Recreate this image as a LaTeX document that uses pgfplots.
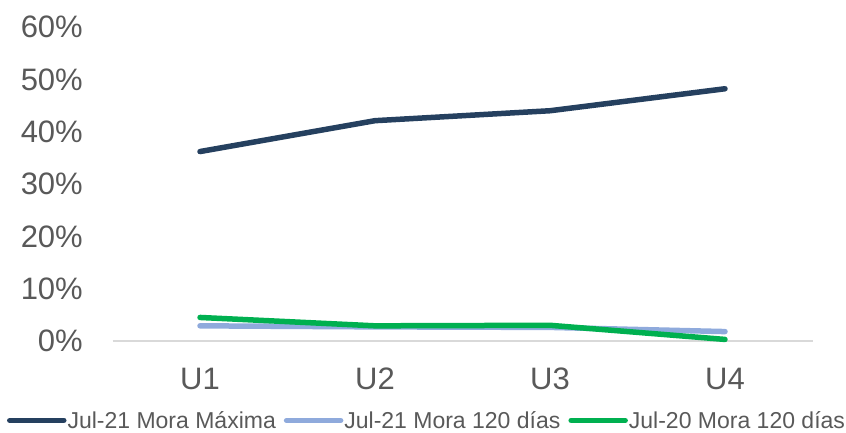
\documentclass[border=0pt]{standalone}
\usepackage{fontspec}
\setmainfont{Liberation Sans}
\usepackage{pgfplots}
\pgfplotsset{compat=1.18}
\definecolor{navy}{HTML}{25405F}
\definecolor{lblue}{HTML}{8FAADC}
\definecolor{grn}{HTML}{00B050}
\definecolor{txt}{HTML}{595959}
\definecolor{base}{HTML}{D9D9D9}
\begin{document}
\begin{tikzpicture}
\useasboundingbox (0,0) rectangle (846pt,432pt);
\begin{axis}[
  at={(112.5pt,91pt)}, anchor=south west,
  scale only axis, width=700pt, height=314pt,
  xmin=-0.5, xmax=3.5, ymin=0, ymax=60,
  clip=false,
  axis line style={draw=none},
  xtick={0,1,2,3}, xticklabels={U1,U2,U3,U4},
  ytick={0,10,20,30,40,50,60},
  yticklabels={0\%,10\%,20\%,30\%,40\%,50\%,60\%},
  tick style={draw=none},
  ticklabel style={font=\fontsize{31}{36}\selectfont, text=txt, inner sep=0pt},
  yticklabel style={anchor=east, xshift=-29.5pt},
  xticklabel style={anchor=north, yshift=-27pt},
  legend columns=3,
  legend style={at={(0.4486,-0.253)}, anchor=center, draw=none, fill=none,
    font=\fontsize{23}{27}\selectfont, text=txt,
    nodes={inner sep=1pt},
    /tikz/every even column/.append style={column sep=7pt}},
  legend cell align=left,
  legend image code/.code={\draw[#1, line cap=round] (0pt,0pt) -- (54pt,0pt);},
  every axis plot/.append style={line width=5.5pt, line cap=round, line join=round},
]
\draw[base, line width=1.5pt] (rel axis cs:0,0) -- (rel axis cs:1,0);
\addplot[navy] coordinates {(0,36.2) (1,42.1) (2,44.0) (3,48.2)};
\addlegendentry{Jul-21 Mora Máxima}
\addplot[lblue] coordinates {(0,2.9) (1,2.7) (2,2.6) (3,1.8)};
\addlegendentry{Jul-21 Mora 120 días}
\addplot[grn] coordinates {(0,4.5) (1,2.9) (2,3.0) (3,0.3)};
\addlegendentry{Jul-20 Mora 120 días}
\end{axis}
\end{tikzpicture}
\end{document}
